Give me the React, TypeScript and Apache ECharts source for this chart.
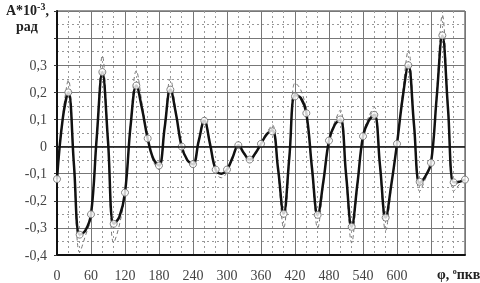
import React, { useEffect, useRef } from "react";
import * as echarts from "echarts";

const angles: number[] = [
  0, 10, 20, 30, 40, 50, 60, 70, 80, 90, 100, 110, 120, 130, 140, 150, 160, 170, 180, 190,
  200, 210, 220, 230, 240, 250, 260, 270, 280, 290, 300, 310, 320, 330, 340, 350, 360, 370,
  380, 390, 400, 410, 420, 430, 440, 450, 460, 470, 480, 490, 500, 510, 520, 530, 540, 550,
  560, 570, 580, 590, 600, 610, 620, 630, 640, 650, 660, 670, 680, 690, 700, 710, 720,
];

const curveSolid: number[] = [
  -0.12, 0.1, 0.2, -0.07, -0.325, -0.31, -0.25, 0.03, 0.275, 0.02, -0.285, -0.26, -0.17, 0.08,
  0.225, 0.14, 0.03, -0.045, -0.07, 0.07, 0.21, 0.12, 0.0, -0.05, -0.065, 0.02, 0.095, 0.01,
  -0.085, -0.1, -0.085, -0.04, 0.005, -0.025, -0.048, -0.025, 0.01, 0.045, 0.06, -0.08, -0.248,
  -0.04, 0.19, 0.18, 0.123, -0.08, -0.252, -0.13, 0.022, 0.08, 0.1, -0.1, -0.296, -0.14, 0.038,
  0.095, 0.117, -0.07, -0.262, -0.14, 0.01, 0.18, 0.3, 0.08, -0.135, -0.11, -0.06, 0.18, 0.41,
  0.14, -0.132, -0.13, -0.122,
];

const curveDashed: number[] = [
  -0.13, 0.11, 0.245, -0.08, -0.39, -0.33, -0.26, 0.04, 0.335, 0.02, -0.355, -0.29, -0.17, 0.09,
  0.28, 0.16, 0.03, -0.055, -0.085, 0.08, 0.25, 0.13, 0.0, -0.055, -0.075, 0.02, 0.11, 0.01,
  -0.095, -0.115, -0.095, -0.04, 0.005, -0.03, -0.055, -0.03, 0.01, 0.05, 0.08, -0.09, -0.3,
  -0.05, 0.235, 0.21, 0.13, -0.09, -0.3, -0.14, 0.02, 0.09, 0.135, -0.11, -0.355, -0.15, 0.04,
  0.11, 0.145, -0.08, -0.31, -0.15, 0.01, 0.2, 0.355, 0.09, -0.165, -0.12, -0.06, 0.2, 0.485,
  0.15, -0.165, -0.14, -0.12,
];

const pointAngles: number[] = [
  0, 20, 40, 60, 80, 100, 120, 140, 160, 180, 200, 220, 240, 260, 280, 300, 320, 340, 360,
  380, 400, 420, 440, 460, 480, 500, 520, 540, 560, 580, 600, 620, 640, 660, 680, 700, 720,
];

const pointValues: number[] = [
  -0.12, 0.2, -0.325, -0.25, 0.275, -0.285, -0.17, 0.225, 0.03, -0.07, 0.21, 0.0, -0.065, 0.095,
  -0.085, -0.085, 0.005, -0.048, 0.01, 0.056, -0.248, 0.185, 0.123, -0.252, 0.022, 0.1, -0.296,
  0.038, 0.117, -0.262, 0.01, 0.3, -0.13, -0.06, 0.41, -0.132, -0.122,
];

const FONT = "Liberation Serif";

export default function App() {
  const ref = useRef<HTMLDivElement>(null);
  useEffect(() => {
    if (!ref.current) return;
    const chart = echarts.init(ref.current, null, { renderer: "svg" });
    chart.setOption({
      animation: false,
      grid: {
        left: 57,
        right: 15,
        top: 11,
        bottom: 28,
        show: true,
        borderColor: "#333",
        borderWidth: 1,
      },
      xAxis: {
        type: "value",
        min: 0,
        max: 720,
        interval: 60,
        axisLine: { show: true, onZero: false, lineStyle: { color: "#111", width: 2 } },
        axisTick: { show: false },
        axisLabel: {
          margin: 13,
          fontFamily: FONT,
          fontSize: 14,
          color: "#444",
          formatter: (v: number) => (v > 600 ? "" : String(v)),
        },
        splitLine: { show: true, lineStyle: { color: "#777", width: 1 } },
        minorTick: { show: false, splitNumber: 3 },
        minorSplitLine: { show: true, lineStyle: { color: "#999", type: [2, 3], width: 1 } },
      },
      yAxis: {
        type: "value",
        min: -0.4,
        max: 0.5,
        interval: 0.1,
        axisLine: { show: true, onZero: false, lineStyle: { color: "#111", width: 2 } },
        axisTick: { show: true, length: 3, lineStyle: { color: "#333" } },
        axisLabel: {
          margin: 10,
          fontFamily: FONT,
          fontSize: 14,
          color: "#444",
          formatter: (v: number) => {
            if (v > 0.35) return "";
            if (Math.abs(v) < 1e-9) return "0";
            return v.toFixed(1).replace(".", ",");
          },
        },
        splitLine: { show: true, lineStyle: { color: "#777", width: 1 } },
        minorTick: { show: false, splitNumber: 2 },
        minorSplitLine: { show: true, lineStyle: { color: "#999", type: [2, 3], width: 1 } },
      },
      graphic: [
        {
          type: "text",
          left: 6,
          top: 1,
          style: {
            text: "{b|А*10}{s|-3}{b|,}",
            fontFamily: FONT,
            rich: {
              b: { fontFamily: FONT, fontSize: 14, fontWeight: "bold", fill: "#222", verticalAlign: "bottom", lineHeight: 16 },
              s: { fontFamily: FONT, fontSize: 10, fontWeight: "bold", fill: "#222", verticalAlign: "top", lineHeight: 16 },
            },
          },
        },
        {
          type: "text",
          left: 16,
          top: 19,
          style: {
            text: "рад",
            fontFamily: FONT,
            fontSize: 14,
            fontWeight: "bold",
            fill: "#222",
          },
        },
        {
          type: "text",
          left: 437,
          top: 267,
          style: {
            text: "{b|φ, }{s|o}{b|пкв}",
            fontFamily: FONT,
            rich: {
              b: { fontFamily: FONT, fontSize: 14, fontWeight: "bold", fill: "#222", lineHeight: 15 },
              s: { fontFamily: FONT, fontSize: 8, fontWeight: "bold", fill: "#222", verticalAlign: "top", lineHeight: 15 },
            },
          },
        },
      ],
      series: [
        {
          type: "line",
          data: angles.map((a, i) => [a, curveDashed[i]]),
          smooth: 0.4,
          showSymbol: false,
          symbol: "none",
          lineStyle: { color: "#777", width: 1, type: [4, 3] },
          z: 2,
        },
        {
          type: "line",
          data: angles.map((a, i) => [a, curveSolid[i]]),
          smooth: 0.4,
          showSymbol: false,
          symbol: "none",
          lineStyle: { color: "#111", width: 2.5 },
          z: 3,
          markLine: {
            silent: true,
            symbol: "none",
            label: { show: false },
            lineStyle: { color: "#111", width: 1.5, type: "solid" },
            data: [{ yAxis: 0 }],
          },
        },
        {
          type: "scatter",
          data: pointAngles.map((a, i) => [a, pointValues[i]]),
          symbol: "circle",
          symbolSize: 7,
          itemStyle: { color: "#fff", borderColor: "#666", borderWidth: 1 },
          z: 4,
        },
      ],
    });
    return () => chart.dispose();
  }, []);
  return (
    <div
      ref={ref}
      style={{ position: "fixed", left: 0, top: 0, width: 480, height: 283 }}
    />
  );
}
